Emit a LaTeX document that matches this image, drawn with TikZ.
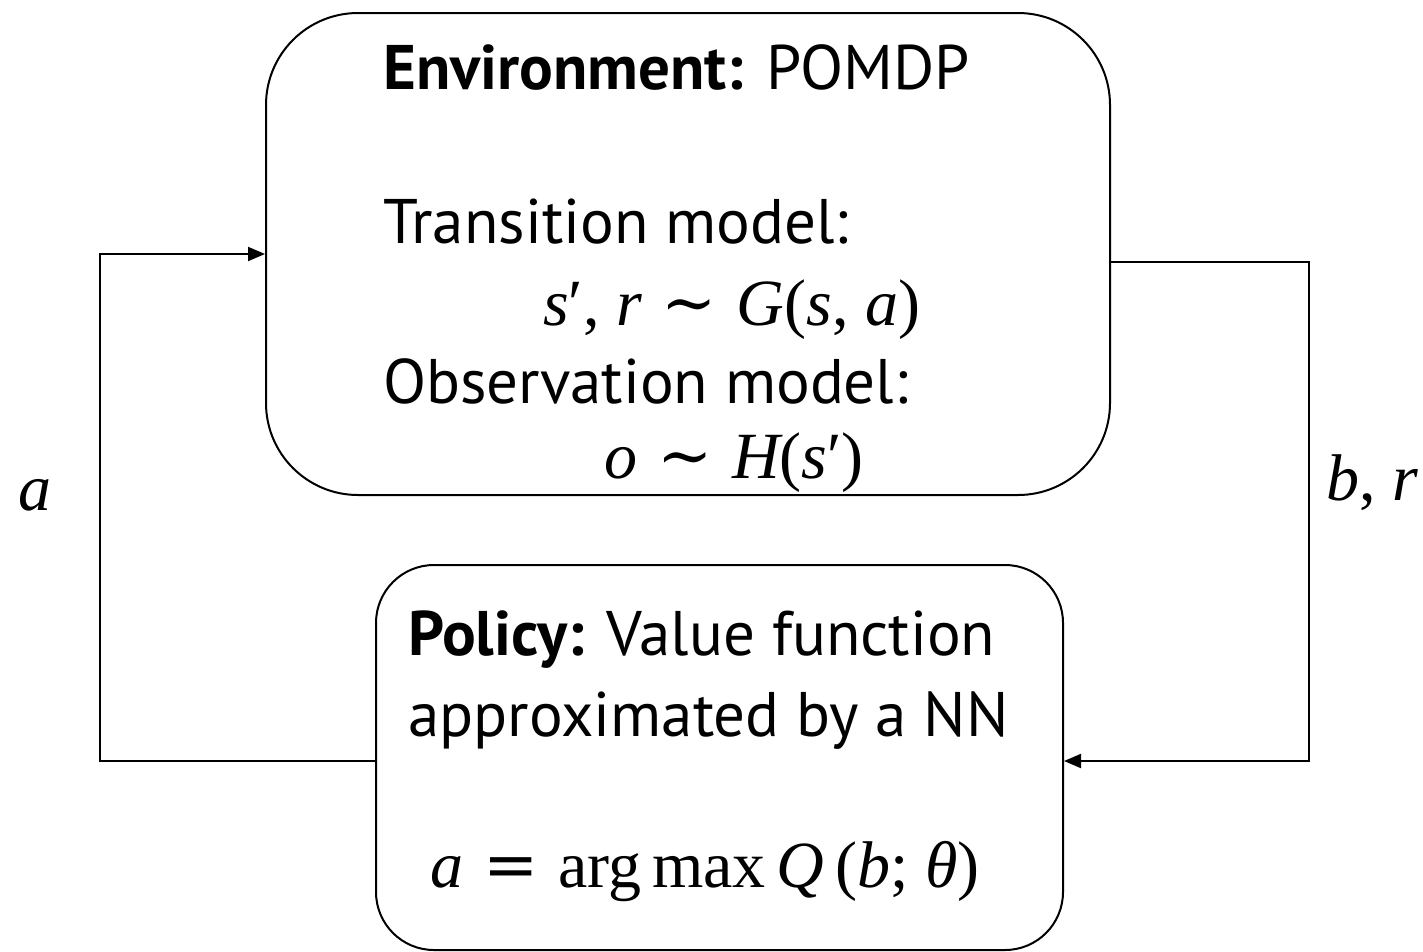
\documentclass[tikz,border=0pt]{standalone}
\usepackage{fontspec}
\setmainfont{PT Sans}
\newfontfamily\mathtext{Liberation Serif}
\newfontfamily\symtext{DejaVu Serif}
\usetikzlibrary{arrows.meta}
% italic math letter and spaced relation symbols
\newcommand\mv[1]{{\itshape #1}}
\newcommand\simrel{\hspace{0.3em}{\symtext\char"223C}\hspace{0.3em}}
\newcommand\eqrel{\hspace{0.3em}{\symtext =}\hspace{0.3em}}
\tikzset{
  box/.style={draw, line width=2pt, inner sep=0pt},
  txt/.style={anchor=base west, inner sep=0pt, font=\fontsize{63}{76}\selectfont},
  mth/.style={anchor=base west, inner sep=0pt, font=\fontsize{66}{78}\selectfont\mathtext},
  conn/.style={line width=2pt},
  tip/.style={-{Triangle[length=17pt,width=14pt]}}
}
\begin{document}
\begin{tikzpicture}[x=1pt, y=-1pt]
\useasboundingbox (0,0) rectangle (1423,951);

% environment block
\node[box, rounded corners=92pt, minimum width=844pt, minimum height=482pt] (env) at (688,254) {};
\node[txt] (envtitle) at (383,89) {\textbf{Environment:} POMDP};
\node[txt] (trans) at (383,243) {Transition model:};
\node[mth] (transeq) at (543,325) {\mv{s}′, \mv{r}\simrel\mv{G}(\mv{s}, \mv{a})};
\node[txt] (obs) at (383,403) {Observation model:};
\node[mth] (obseq) at (604,478) {\mv{o}\simrel\mv{H}(\mv{s}′)};

% policy block
\node[box, rounded corners=58pt, minimum width=687pt, minimum height=385pt] (pol) at (719.5,757.5) {};
\node[txt] (poltitle) at (408,655) {\textbf{Policy:} Value function};
\node[txt] (polsub) at (408,736) {approximated by a NN};
\node[mth] (poleq) at (430,887) {\mv{a}\eqrel arg\,max\,\mv{Q}\,(\mv{b}; \mv{θ})};

% feedback loop
\coordinate (lowy) at (0,761);
\coordinate (envy) at (0,262);
\coordinate (leftx) at (100,0);
\coordinate (rightx) at (1309,0);
\draw[conn, tip] (pol.west |- lowy) -- (leftx |- lowy) -- (leftx |- env.west) -- (env.west);
\draw[conn, tip] (env.east |- envy) -- (rightx |- envy) -- (rightx |- lowy) -- (pol.east |- lowy);

\node[mth] (alabel) at (18,510) {\mv{a}};
\node[mth] (brlabel) at (1326,500) {\mv{b}, \mv{r}};
\end{tikzpicture}
\end{document}
